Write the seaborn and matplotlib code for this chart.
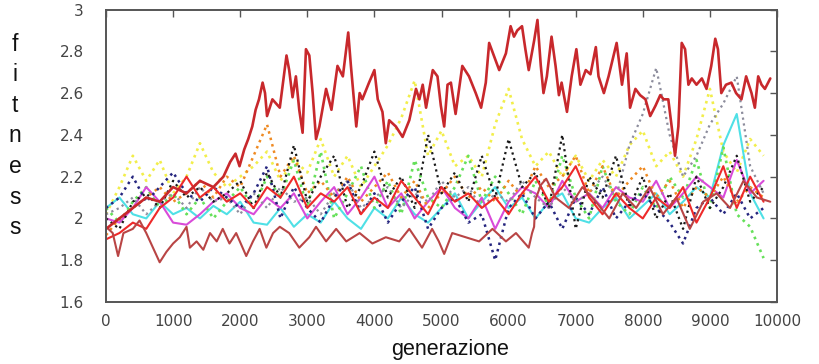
import numpy as np
import pandas as pd
import seaborn as sns
import matplotlib.pyplot as plt

# generations sampled every 200 for the bundle of runs
gens = np.arange(0, 9801, 200)

yellow = [2.02, 2.15, 2.30, 2.18, 2.28, 2.12, 2.20, 2.36, 2.22, 2.15,
          2.20, 2.25, 2.32, 2.18, 2.28, 2.22, 2.38, 2.20, 2.30, 2.15,
          2.25, 2.35, 2.48, 2.66, 2.30, 2.42, 2.25, 2.30, 2.20, 2.45,
          2.62, 2.38, 2.25, 2.32, 2.20, 2.30, 2.18, 2.28, 2.20, 2.35,
          2.42, 2.25, 2.32, 2.20, 2.38, 2.62, 2.32, 2.22, 2.38, 2.30]
green = [2.05, 1.98, 2.08, 2.15, 2.05, 2.12, 2.02, 2.10, 2.00, 2.08,
         2.15, 2.05, 2.20, 2.10, 2.28, 2.05, 2.32, 2.00, 2.12, 2.25,
         2.05, 2.18, 2.02, 2.28, 2.10, 2.05, 2.15, 2.30, 2.08, 2.20,
         2.12, 2.02, 2.18, 2.06, 2.30, 2.10, 2.00, 2.25, 2.08, 2.02,
         2.15, 2.05, 2.20, 2.10, 2.28, 2.05, 2.34, 2.02, 1.96, 1.81]
cyan = [2.05, 2.10, 2.02, 2.00, 2.08, 2.02, 2.05, 2.00, 2.06, 2.02,
        2.08, 1.98, 1.97, 2.05, 1.96, 2.02, 1.98, 2.08, 2.00, 1.95,
        2.05, 2.00, 2.10, 2.02, 1.98, 2.05, 2.12, 2.00, 2.08, 2.15,
        2.05, 2.10, 2.00, 2.08, 2.12, 2.00, 1.98, 2.05, 2.10, 2.00,
        2.06, 2.12, 2.02, 2.08, 2.15, 2.10, 2.35, 2.50, 2.12, 2.00]
magenta = [2.00, 1.98, 2.05, 2.15, 2.08, 1.98, 1.97, 2.02, 2.08, 2.12,
           2.05, 2.02, 2.10, 2.05, 2.12, 2.00, 2.08, 2.15, 2.02, 2.10,
           2.20, 2.05, 2.12, 2.00, 2.08, 2.15, 2.05, 2.00, 2.10, 1.95,
           2.08, 2.15, 2.12, 2.05, 2.18, 2.08, 2.12, 2.05, 2.15, 2.10,
           2.08, 2.18, 2.05, 2.12, 2.20, 2.15, 2.10, 2.28, 2.12, 2.18]
black = [2.00, 1.95, 2.08, 2.12, 2.05, 2.18, 2.10, 2.15, 2.08, 2.12,
         2.18, 2.05, 2.22, 2.10, 2.35, 2.08, 2.20, 2.30, 2.05, 2.15,
         2.32, 2.10, 2.20, 2.05, 2.40, 2.12, 2.22, 2.08, 2.30, 2.10,
         2.38, 2.15, 2.22, 2.05, 2.40, 1.95, 2.20, 2.10, 2.30, 2.05,
         2.20, 2.00, 2.12, 1.95, 2.20, 2.05, 2.15, 2.30, 2.08, 2.15]
navy = [2.05, 2.10, 2.20, 2.08, 2.15, 2.22, 2.12, 2.08, 2.15, 2.10,
        2.05, 2.12, 2.25, 2.00, 2.15, 2.05, 1.98, 2.10, 2.18, 2.02,
        2.12, 1.98, 2.08, 2.15, 1.95, 2.05, 2.10, 1.98, 2.02, 1.80,
        2.05, 2.12, 2.00, 2.08, 1.95, 2.10, 2.02, 2.15, 2.00, 2.08,
        2.12, 2.05, 1.98, 1.88, 2.05, 2.10, 2.02, 2.12, 2.00, 2.05]
orange = [1.92, 2.00, 2.05, 2.10, 2.15, 2.08, 2.12, 2.18, 2.10, 2.20,
          2.15, 2.30, 2.45, 2.20, 2.30, 2.12, 2.18, 2.10, 2.20, 2.08,
          2.15, 2.22, 2.10, 2.18, 2.05, 2.12, 2.20, 2.10, 2.15, 2.08,
          2.18, 2.10, 2.25, 2.15, 2.20, 2.30, 2.12, 2.25, 2.10, 2.18,
          2.25, 2.10, 2.18, 2.05, 2.15, 2.10, 2.20, 2.08, 2.15, 2.10]
red = [1.90, 1.93, 1.98, 1.95, 2.05, 2.10, 2.20, 2.10, 2.15, 2.08,
       2.12, 2.05, 2.15, 2.10, 2.20, 2.05, 2.12, 2.08, 2.15, 2.02,
       2.10, 2.05, 2.18, 2.10, 2.02, 2.15, 2.08, 2.12, 2.05, 2.10,
       2.02, 2.12, 2.20, 2.08, 2.15, 2.25, 2.10, 2.02, 2.12, 2.05,
       2.00, 2.10, 2.05, 2.15, 1.98, 2.10, 2.25, 2.05, 2.20, 2.08]
gray = [2.02, 2.05, 2.10, 2.02, 2.08, 2.12, 2.05, 2.15, 2.08, 2.10,
        2.02, 2.12, 2.05, 2.15, 2.08, 2.10, 2.02, 2.12, 2.18, 2.05,
        2.10, 2.15, 2.05, 2.12, 2.08, 2.18, 2.10, 2.15, 2.05, 2.12,
        2.08, 2.18, 2.10, 2.05, 2.15, 2.08, 2.12, 2.20, 2.10, 2.35,
        2.50, 2.72, 2.40, 2.20, 2.30, 2.45, 2.55, 2.68, 2.25, 2.12]

# the run that climbs above the others
top_gens = [0, 200, 400, 600, 800, 1000, 1200, 1400, 1600, 1750, 1850, 1930,
            1990, 2060, 2120, 2180, 2230, 2280, 2334, 2370, 2400, 2480, 2590,
            2690, 2730, 2780, 2830, 2880, 2930, 2980, 3030, 3080, 3130, 3180,
            3280, 3360, 3450, 3530, 3610, 3650, 3730, 3780, 3820, 3920, 4000,
            4050, 4120, 4170, 4220, 4320, 4420, 4520, 4620, 4670, 4720, 4770,
            4870, 4940, 4990, 5040, 5090, 5140, 5210, 5310, 5410, 5510, 5590,
            5660, 5710, 5780, 5860, 5960, 6030, 6080, 6130, 6200, 6250, 6300,
            6380, 6430, 6480, 6520, 6570, 6640, 6700, 6750, 6790, 6870, 6940,
            7010, 7070, 7150, 7220, 7300, 7340, 7420, 7490, 7610, 7690, 7760,
            7810, 7890, 7960, 8040, 8110, 8190, 8260, 8310, 8380, 8430, 8480,
            8530, 8580, 8630, 8680, 8730, 8800, 8880, 8950, 9020, 9080, 9120,
            9170, 9240, 9320, 9390, 9470, 9540, 9620, 9670, 9720, 9770, 9820,
            9900]
top_fit = [1.95, 2.00, 2.05, 2.10, 2.08, 2.15, 2.12, 2.18, 2.15, 2.20, 2.27, 2.31,
           2.25, 2.33, 2.38, 2.44, 2.52, 2.57, 2.65, 2.60, 2.49, 2.57, 2.53,
           2.78, 2.71, 2.58, 2.68, 2.52, 2.41, 2.81, 2.78, 2.60, 2.38, 2.44,
           2.62, 2.52, 2.73, 2.68, 2.89, 2.73, 2.44, 2.60, 2.57, 2.65, 2.71,
           2.57, 2.51, 2.36, 2.47, 2.44, 2.39, 2.47, 2.62, 2.57, 2.64, 2.53,
           2.71, 2.68, 2.54, 2.44, 2.64, 2.65, 2.50, 2.73, 2.68, 2.60, 2.53,
           2.65, 2.84, 2.78, 2.71, 2.79, 2.92, 2.87, 2.90, 2.92, 2.81, 2.71,
           2.85, 2.95, 2.73, 2.60, 2.68, 2.87, 2.73, 2.59, 2.65, 2.51, 2.68,
           2.81, 2.64, 2.71, 2.69, 2.82, 2.68, 2.60, 2.68, 2.84, 2.64, 2.79,
           2.53, 2.62, 2.59, 2.57, 2.49, 2.54, 2.59, 2.57, 2.57, 2.44, 2.30,
           2.44, 2.84, 2.81, 2.64, 2.67, 2.64, 2.67, 2.62, 2.73, 2.86, 2.81,
           2.60, 2.64, 2.65, 2.60, 2.57, 2.68, 2.60, 2.53, 2.68, 2.64, 2.62,
           2.67]

# the run that stays low until ~6400
low_gens = [0, 100, 180, 260, 400, 500, 600, 700, 800, 900, 1000, 1100, 1200,
            1250, 1350, 1450, 1550, 1650, 1740, 1840, 1940, 2090, 2190, 2290,
            2390, 2490, 2590, 2730, 2880, 3030, 3130, 3280, 3430, 3580, 3780,
            3970, 4170, 4370, 4520, 4710, 4860, 4960, 5040, 5160, 5360, 5560,
            5760, 5960, 6110, 6300, 6350, 6380, 6400, 6480, 6560, 6700, 6900,
            7100, 7300, 7500, 7700, 7900, 8100, 8300, 8500, 8700, 8900, 9100,
            9300, 9500, 9700, 9900]
low_fit = [1.96, 1.93, 1.82, 1.93, 1.95, 1.99, 1.93, 1.86, 1.79, 1.84, 1.88, 1.91, 1.96,
           1.86, 1.89, 1.85, 1.93, 1.89, 1.95, 1.88, 1.93, 1.82, 1.89, 1.95,
           1.86, 1.93, 1.96, 1.93, 1.86, 1.91, 1.96, 1.89, 1.95, 1.89, 1.93,
           1.88, 1.91, 1.89, 1.95, 1.86, 1.95, 1.89, 1.83, 1.93, 1.91, 1.89,
           1.95, 1.89, 1.93, 1.86, 1.93, 1.96, 2.09, 2.16, 2.19, 2.10, 2.05,
           2.15, 2.08, 2.00, 2.12, 2.05, 2.15, 2.02, 2.10, 1.95, 2.08, 2.12,
           2.05, 2.18, 2.10, 2.08]

x_ticks = [0, 1000, 2000, 3000, 4000, 5000, 6000, 7000, 8000, 9000, 10000]
y_ticks = [1.6, 1.8, 2.0, 2.2, 2.4, 2.6, 2.8, 3.0]
y_tick_labels = ['1.6', '1.8', '2', '2.2', '2.4', '2.6', '2.8', '3']

sns.set_style("white")
plt.rcParams['font.family'] = ['DejaVu Sans']

fig = plt.figure(figsize=(8.19, 3.64), dpi=100)
ax = fig.add_axes([106 / 819, 1 - 302 / 364, 671 / 819, 292.5 / 364])

runs = [
    (yellow, '#f2ee4a', ':', 1.9),
    (cyan, '#4fe0e6', '-', 1.5),
    (green, '#66e05a', ':', 1.9),
    (magenta, '#d94bd9', '-', 1.5),
    (gray, '#8c8c9c', ':', 1.6),
    (orange, '#ef8a22', ':', 1.8),
    (navy, '#25257e', ':', 1.8),
    (black, '#1a1a1a', ':', 1.6),
    (red, '#ee2a2a', '-', 1.5),
]
for vals, col, ls, lw in runs:
    sns.lineplot(x=gens, y=vals, color=col, linestyle=ls, linewidth=lw, ax=ax)

sns.lineplot(x=low_gens, y=low_fit, color='#b94545', linewidth=1.5, ax=ax)
sns.lineplot(x=top_gens, y=top_fit, color='#c8282c', linewidth=1.9, ax=ax)

ax.set_xlim(0, 10000)
ax.set_ylim(1.6, 3.0)
ax.set_xticks(x_ticks)
ax.set_yticks(y_ticks)
ax.set_yticklabels(y_tick_labels)
ax.tick_params(direction='in', length=5, width=1, color='#555555',
               top=True, right=True, labelsize=11, labelcolor='#444444')
ax.tick_params(axis='x', pad=9)
ax.tick_params(axis='y', pad=16)
for s in ax.spines.values():
    s.set_color('#555555')
    s.set_linewidth(1.4)
ax.set_xlabel('')
ax.set_ylabel('')

fig.text(15 / 819, 1 - 136 / 364, 'f\ni\nt\nn\ne\ns\ns', ha='center', va='center',
         fontsize=16.5, family='Liberation Sans', linespacing=1.42, color='#111111')
fig.text(450 / 819, 1 - 350 / 364, 'generazione', ha='center', va='center',
         fontsize=15.5, family='Liberation Sans', color='#111111')

fig.savefig('out.png', dpi=100)
